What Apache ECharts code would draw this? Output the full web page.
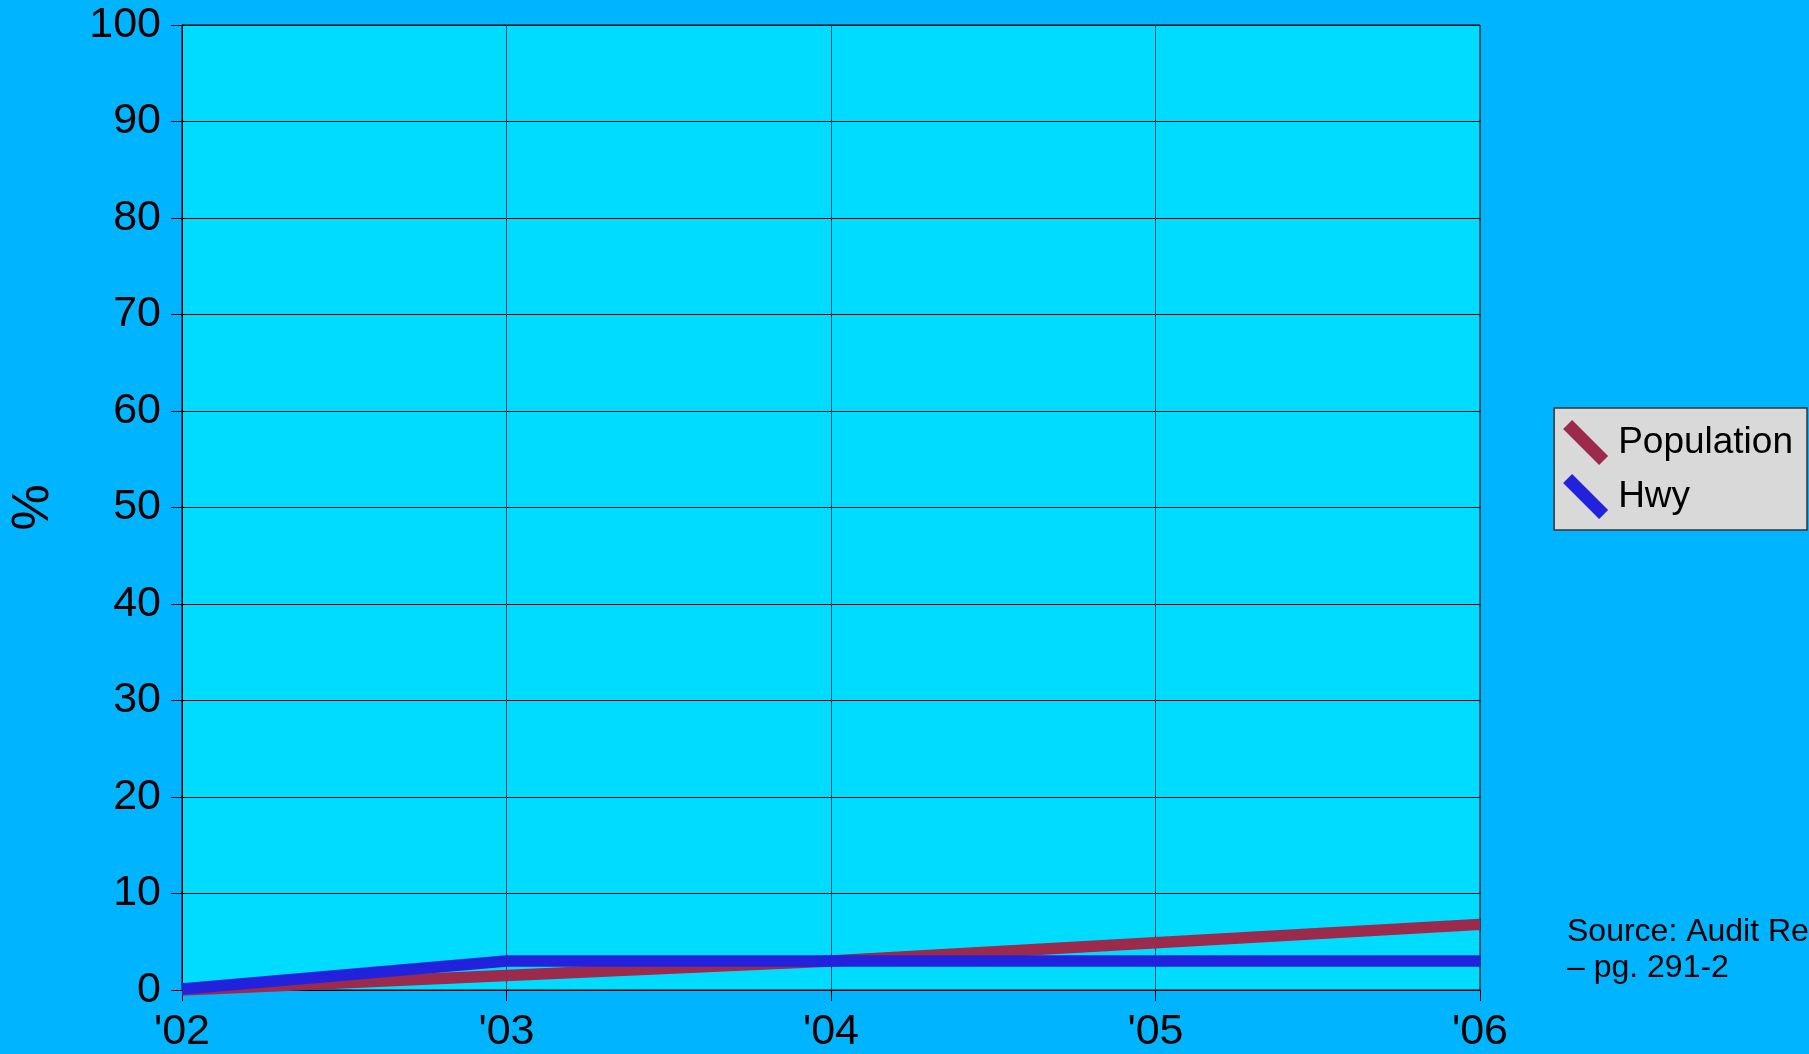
<!DOCTYPE html>
<html><head><meta charset="utf-8">
<script src="https://cdn.jsdelivr.net/npm/echarts@6/dist/echarts.min.js"></script>
<style>html,body{margin:0;padding:0;background:#00b4ff;}#c{width:1809px;height:1054px;}</style>
</head><body><div id="c"></div>
<script>
const categories = ["'02", "'03", "'04", "'05", "'06"];
const population = [0, 1.5, 3.0, 4.9, 6.8];
const hwy = [0.1, 3.0, 3.0, 3.0, 3.0];
const yTicks = [0, 100, 10];

const chart = echarts.init(document.getElementById('c'));
const font = '"Liberation Sans", Arial, sans-serif';
const icon = 'path://M0,3 L3,0 L15,12 L12,15 Z';
chart.setOption({
  backgroundColor: '#00b4ff',
  animation: false,
  textStyle: {fontFamily: font},
  grid: {left: 182, right: 329, top: 25, bottom: 64, show: true, backgroundColor: '#00dcff', borderColor: '#000', borderWidth: 1},
  legend: {
    right: 2, top: 408, orient: 'vertical',
    backgroundColor: '#d9d9d9', borderColor: '#333', borderWidth: 1.5,
    padding: [12, 14, 11, 9], itemGap: 9, itemWidth: 45, itemHeight: 45,
    textStyle: {fontSize: 37, color: '#000', fontFamily: font, padding: [0, 0, 0, 5]},
    data: [{name: 'Population', icon: icon}, {name: 'Hwy', icon: icon}]
  },
  xAxis: {
    type: 'category', data: categories, boundaryGap: false,
    axisLine: {lineStyle: {color: '#000', width: 1}},
    axisTick: {show: true, length: 11, lineStyle: {color: '#000'}},
    axisLabel: {fontSize: 43, color: '#000', margin: 21, fontFamily: font},
    splitLine: {show: true, lineStyle: {color: '#0d4f60', width: 1}}
  },
  yAxis: {
    type: 'value', min: yTicks[0], max: yTicks[1], interval: yTicks[2],
    name: '%', nameLocation: 'middle', nameGap: 122, nameRotate: 90,
    nameTextStyle: {fontSize: 52, color: '#000', fontFamily: font},
    axisLine: {show: true, lineStyle: {color: '#000', width: 1}},
    axisTick: {show: true, length: 11, lineStyle: {color: '#000'}},
    axisLabel: {fontSize: 43, color: '#000', margin: 21, fontFamily: font},
    splitLine: {show: true, lineStyle: {color: '#000', width: 1}}
  },
  series: [
    {name: 'Population', type: 'line', data: population, showSymbol: false, symbol: 'none',
     color: '#9b2a4c', lineStyle: {width: 11.5, color: '#9b2a4c'}},
    {name: 'Hwy', type: 'line', data: hwy, showSymbol: false, symbol: 'none',
     color: '#2222dd', lineStyle: {width: 11.5, color: '#2222dd'}}
  ],
  graphic: [{
    type: 'text', left: 1567, top: 914,
    style: {text: 'Source: Audit Report\n– pg. 291-2', font: '32px "Liberation Sans", Arial, sans-serif', fill: '#000', lineHeight: 36}
  }]
});
</script></body></html>
